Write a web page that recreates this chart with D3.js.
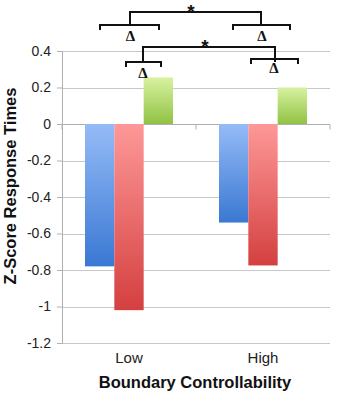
<!DOCTYPE html>
<meta charset="utf-8">
<style>
body { margin: 0; background: #fff; }
svg { font-family: "Liberation Sans", Arial, sans-serif; }
.grid line { stroke: #c8c8c8; stroke-width: 1; }
.axis path, .axis line { stroke: #b0b0b0; }
.axis text { fill: #222; font-size: 14px; }
.brk path { fill: none; stroke: #111; stroke-width: 2; }
</style>
<svg width="341" height="402"></svg>
<script src="https://cdnjs.cloudflare.com/ajax/libs/d3/7.8.5/d3.min.js"></script>
<script>

var categories = ["Low", "High"];
var series = ["blue", "red", "green"];
var blueVals = [-0.78, -0.54];
var redVals = [-1.02, -0.775];
var greenVals = [0.255, 0.2];
var yTicks = [0.4, 0.2, 0, -0.2, -0.4, -0.6, -0.8, -1, -1.2];

var svg = d3.select("svg"),
    margin = {top: 51, right: 11, bottom: 59, left: 62},
    width = 341 - margin.left - margin.right,
    height = 402 - margin.top - margin.bottom;

var g = svg.append("g").attr("transform", "translate(" + margin.left + "," + margin.top + ")");

var x = d3.scaleBand().domain(categories).range([0, width]).paddingInner(0).paddingOuter(0);
var xs = d3.scaleBand().domain(series).range([23, x.bandwidth() - 23]);
var y = d3.scaleLinear().domain([-1.2, 0.4]).range([height, 0]);

// gradients
var defs = svg.append("defs");
var grads = {
  blue: ["#95bbf7", "#3a78d3"],
  red: ["#fe9898", "#d44040"],
  green: ["#d8f2a0", "#90c244"]
};
Object.keys(grads).forEach(function(k) {
  var gr = defs.append("linearGradient").attr("id", "g-" + k)
    .attr("x1", 0).attr("y1", 0).attr("x2", 0).attr("y2", 1);
  gr.append("stop").attr("offset", "0%").attr("stop-color", grads[k][0]);
  gr.append("stop").attr("offset", "100%").attr("stop-color", grads[k][1]);
});

// gridlines
g.append("g").attr("class", "grid")
  .selectAll("line").data(yTicks).enter().append("line")
  .attr("x1", 0).attr("x2", width)
  .attr("y1", function(d) { return Math.round(y(d)) + 0.5; })
  .attr("y2", function(d) { return Math.round(y(d)) + 0.5; });

// y axis
var yAxis = g.append("g").attr("class", "axis")
  .call(d3.axisLeft(y).tickValues(yTicks).tickSize(5).tickPadding(6)
    .tickFormat(function(d) { return d === 0 ? "0" : String(d); }));
yAxis.selectAll("text").style("font-size", "14px");

// zero axis with category ticks
var zx = g.append("g").attr("class", "axis")
  .attr("transform", "translate(0," + (Math.round(y(0)) + 0.5) + ")");
zx.append("line").attr("x1", 0).attr("x2", width);
zx.selectAll(".ct").data([0, x.bandwidth(), width]).enter().append("line")
  .attr("x1", function(d) { return d; }).attr("x2", function(d) { return d; })
  .attr("y1", 0).attr("y2", 5);

// bars
var rows = categories.map(function(c, i) {
  return [
    {cat: c, s: "blue", v: blueVals[i]},
    {cat: c, s: "red", v: redVals[i]},
    {cat: c, s: "green", v: greenVals[i]}
  ];
});
g.append("g").selectAll("g").data(rows).enter().append("g")
  .attr("transform", function(d, i) { return "translate(" + x(categories[i]) + ",0)"; })
  .selectAll("rect").data(function(d) { return d; }).enter().append("rect")
  .attr("x", function(d) { return xs(d.s); })
  .attr("width", xs.bandwidth())
  .attr("y", function(d) { return y(Math.max(0, d.v)); })
  .attr("height", function(d) { return Math.abs(y(d.v) - y(0)); })
  .attr("fill", function(d) { return "url(#g-" + d.s + ")"; });

// x category labels
g.append("g").selectAll("text").data(categories).enter().append("text")
  .attr("x", function(d) { return x(d) + x.bandwidth() / 2; })
  .attr("y", height + 20)
  .attr("text-anchor", "middle")
  .style("font-size", "15px").style("fill", "#222")
  .text(function(d) { return d; });

// axis titles
svg.append("text")
  .attr("x", 195).attr("y", 388)
  .attr("text-anchor", "middle")
  .style("font-size", "16.5px").style("font-weight", "bold").style("fill", "#111")
  .text("Boundary Controllability");

svg.append("text")
  .attr("transform", "translate(16,186) rotate(-90)")
  .attr("text-anchor", "middle")
  .style("font-size", "16.5px").style("font-weight", "bold").style("fill", "#111")
  .text("Z-Score Response Times");

// significance brackets
var brk = svg.append("g").attr("class", "brk");
function subBracket(x1, x2, yy) {
  brk.append("path").attr("d", "M" + x1 + "," + (yy + 5) + "V" + yy + "H" + x2 + "V" + (yy + 5));
}
function topBracket(x1, x2, y1, y2) {
  brk.append("path").attr("d", "M" + x1 + "," + y2 + "V" + y1 + "H" + x2 + "V" + y2);
}
function delta(cx, cy) {
  svg.append("text").attr("x", cx).attr("y", cy).attr("text-anchor", "middle")
    .style("font-family", "'Liberation Serif', serif").style("font-weight", "bold")
    .style("font-size", "15px").style("fill", "#111").text("\u0394");
}
function star(cx, cy) {
  svg.append("text").attr("x", cx).attr("y", cy).attr("text-anchor", "middle")
    .style("font-family", "'Liberation Sans', sans-serif").style("font-weight", "bold")
    .style("font-size", "19px").style("fill", "#111").text("*");
}

topBracket(130, 261, 12, 25);
subBracket(100, 159, 25);
subBracket(233, 290, 25);
delta(130.5, 40.5);
delta(262, 40.5);
star(191, 18);

topBracket(143, 275, 47, 62);
subBracket(126, 161, 62);
subBracket(251, 298, 59);
delta(143, 77.5);
delta(274, 72.5);
star(205, 53);

</script>
